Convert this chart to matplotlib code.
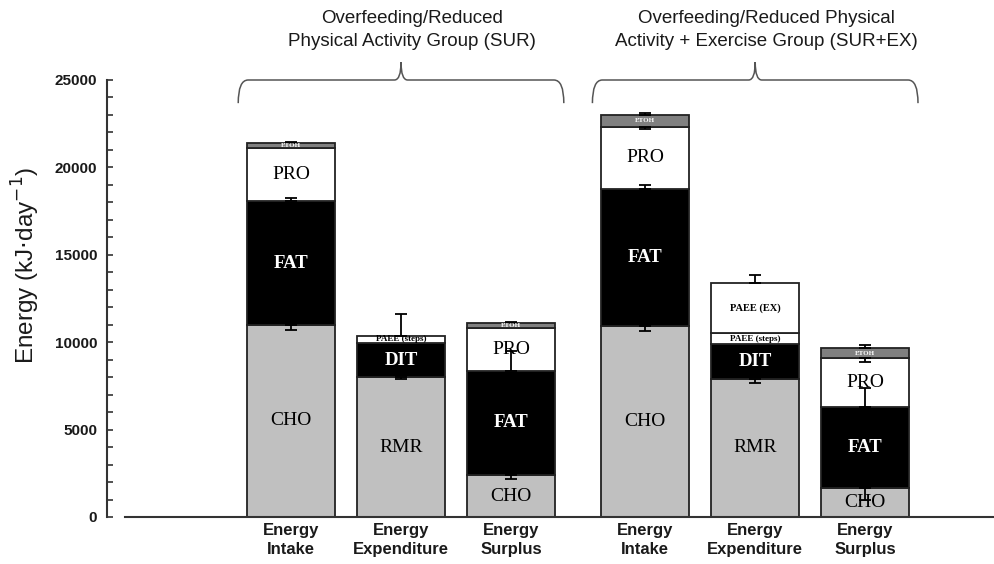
import numpy as np
import matplotlib
matplotlib.use("Agg")
import matplotlib.pyplot as plt
import matplotlib.transforms as mtransforms
from matplotlib.path import Path
from matplotlib.patches import PathPatch
from matplotlib.ticker import MultipleLocator

plt.rcParams['font.family'] = ['Liberation Sans', 'DejaVu Sans']

# bar labels and group titles
categories = ["Energy\nIntake", "Energy\nExpenditure", "Energy\nSurplus",
              "Energy\nIntake", "Energy\nExpenditure", "Energy\nSurplus"]
group_titles = ["Overfeeding/Reduced\nPhysical Activity Group (SUR)",
                "Overfeeding/Reduced Physical\nActivity + Exercise Group (SUR+EX)"]

# segment heights in kJ/day (bottom to top), one value per bar
cho = [11000, 0, 2400, 10950, 0, 1650]
rmr = [0, 8000, 0, 0, 7900, 0]
fat = [7050, 0, 5970, 7800, 0, 4630]
dit = [0, 1950, 0, 0, 2000, 0]
pro = [3050, 0, 2440, 3580, 0, 2800]
paee_steps = [0, 420, 0, 0, 610, 0]
paee_ex = [0, 0, 0, 0, 2860, 0]
etoh = [300, 0, 310, 670, 0, 570]

# visible error bars at the top of each segment (down / up)
cho_lo = [300, 0, 250, 300, 0, 650]
rmr_lo = [0, 110, 0, 0, 260, 0]
fat_hi = [200, 0, 1100, 240, 0, 1080]
pro_lo = [0, 0, 0, 150, 0, 230]
paee_steps_hi = [0, 1230, 0, 0, 0, 0]
paee_ex_hi = [0, 0, 0, 0, 470, 0]
etoh_hi = [80, 0, 60, 130, 0, 190]

zeros = [0] * 6
GRAY = '#c0c0c0'
DARK = '#808080'

# name, values, fill, text colour, size, weight, err down, err up, clip text
segments = [
    ("CHO", cho, GRAY, 'black', 14, 'normal', cho_lo, zeros, False),
    ("RMR", rmr, GRAY, 'black', 14, 'normal', rmr_lo, zeros, False),
    ("FAT", fat, 'black', 'white', 13.5, 'bold', zeros, fat_hi, False),
    ("DIT", dit, 'black', 'white', 13.5, 'bold', zeros, zeros, False),
    ("PRO", pro, 'white', 'black', 14, 'normal', pro_lo, zeros, False),
    ("PAEE (steps)", paee_steps, 'white', 'black', 6.5, 'bold', zeros, paee_steps_hi, True),
    ("PAEE (EX)", paee_ex, 'white', 'black', 7.5, 'bold', zeros, paee_ex_hi, False),
    ("ETOH", etoh, DARK, 'white', 5, 'bold', zeros, etoh_hi, True),
]

fig = plt.figure(figsize=(9.95, 5.64), dpi=100)
ax = fig.add_axes([107 / 995, 47 / 564, 888 / 995, 437 / 564])

xpos = np.array([0, 1, 2, 3.22, 4.22, 5.22])
width = 0.8
bottom = np.zeros(6)

for name, vals, fill, tcol, size, weight, lo, hi, clip in segments:
    vals = np.array(vals, dtype=float)
    for i in np.nonzero(vals)[0]:
        bar = ax.bar(xpos[i], vals[i], width, bottom=bottom[i], color=fill,
                     edgecolor='#222222', linewidth=1.3, zorder=2)[0]
        t = ax.text(xpos[i], bottom[i] + vals[i] / 2, name, ha='center', va='center',
                    color=tcol, fontsize=size, fontweight=weight,
                    family=['Liberation Serif', 'DejaVu Serif'], zorder=4)
        if clip:
            t.set_clip_path(bar)
    top = bottom + vals
    lo = np.array(lo, dtype=float)
    hi = np.array(hi, dtype=float)
    m = lo > 0
    if m.any():
        ax.errorbar(xpos[m], top[m], yerr=[lo[m], np.zeros(m.sum())], fmt='none',
                    ecolor='black', elinewidth=1.3, capsize=4.5, capthick=1.3, zorder=3)
    m = hi > 0
    if m.any():
        ax.errorbar(xpos[m], top[m], yerr=[np.zeros(m.sum()), hi[m]], fmt='none',
                    ecolor='black', elinewidth=1.3, capsize=4.5, capthick=1.3, zorder=3)
    bottom = top


# curly braces above each group
def draw_brace(x0, x1, xc):
    trans = mtransforms.blended_transform_factory(ax.transData, ax.transAxes)
    y_end, y_mid, y_tip = 0.947, 1.0, 1.041
    dx, dxt = 0.09, 0.06
    verts = [(x0, y_end), (x0, y_mid), (x0 + dx, y_mid), (xc - dxt, y_mid),
             (xc, y_mid), (xc, y_tip), (xc, y_mid), (xc + dxt, y_mid),
             (x1 - dx, y_mid), (x1, y_mid), (x1, y_end)]
    codes = [Path.MOVETO, Path.CURVE3, Path.CURVE3, Path.LINETO,
             Path.CURVE3, Path.CURVE3, Path.CURVE3, Path.CURVE3,
             Path.LINETO, Path.CURVE3, Path.CURVE3]
    patch = PathPatch(Path(verts, codes), transform=trans, facecolor='none',
                      edgecolor='#555555', linewidth=1.1, clip_on=False)
    ax.add_patch(patch)


for g, title in enumerate(group_titles):
    gx = xpos[3 * g:3 * g + 3]
    xc = gx.mean()
    draw_brace(gx[0] - 0.48, gx[-1] + 0.48, xc)
    ax.annotate(title, xy=(xc + 0.1, 1 - 30 / 564), xycoords=('data', 'figure fraction'),
                ha='center', va='center', fontsize=13.5, linespacing=1.5, color='#1a1a1a')

# axes styling
ax.set_xlim(-1.673, 6.4)
ax.set_ylim(0, 25000)
for s in ['top', 'right']:
    ax.spines[s].set_visible(False)
ax.spines['left'].set_bounds(0, 25000)
ax.spines['bottom'].set_bounds(-1.51, 6.4)
for s in ['left', 'bottom']:
    ax.spines[s].set_linewidth(1.5)
    ax.spines[s].set_color('#333333')

ax.set_yticks(range(0, 25001, 5000))
ax.yaxis.set_minor_locator(MultipleLocator(1000))
ax.tick_params(axis='y', which='both', direction='in', length=4, width=1.2,
               color='#333333', pad=7)
for lab in ax.get_yticklabels():
    lab.set_fontweight('bold')
    lab.set_fontsize(11)
    lab.set_color('#1a1a1a')

ax.set_xticks(xpos, categories)
ax.tick_params(axis='x', length=0, pad=4.5)
for lab in ax.get_xticklabels():
    lab.set_fontweight('bold')
    lab.set_fontsize(12)
    lab.set_linespacing(1.3)
    lab.set_color('#1a1a1a')

ax.set_ylabel(r"Energy (kJ$\cdot$day$^{-1}$)", fontsize=17.5, color='#1a1a1a',
              va='center')
ax.yaxis.set_label_coords(-0.0912, 0.575)

fig.savefig("out.png", dpi=100)
